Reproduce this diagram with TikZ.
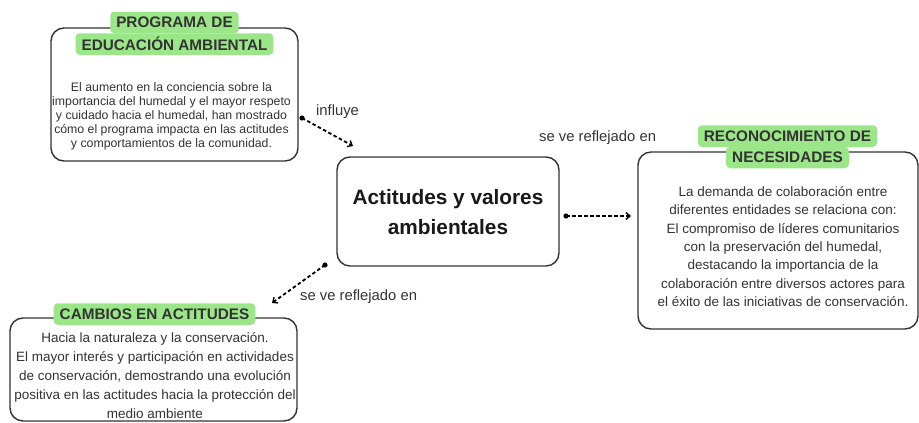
\documentclass[tikz,border=0pt]{standalone}
\usepackage{fontspec}
\setmainfont{Liberation Sans}
\usetikzlibrary{arrows.meta}
\definecolor{txt}{HTML}{333333}
\definecolor{edge}{HTML}{333333}
\definecolor{tagg}{HTML}{9CE68A}
\tikzset{
  box/.style={draw=edge, line width=1.4pt, rounded corners=13pt, fill=white},
  tag/.style={fill=tagg, rounded corners=4pt, text=txt, font=\bfseries\fontsize{15.3}{18}\selectfont, inner xsep=6pt, inner ysep=0pt, minimum height=21.5pt},
  body/.style={text=txt, align=center, inner sep=0pt},
  lbl/.style={text=txt, font=\fontsize{14.8}{17}\selectfont, inner sep=0pt},
  conn/.style={draw=black, line width=1.8pt, dash pattern=on 3.5pt off 2.5pt, -{Straight Barb[length=4pt,width=7pt,line width=1.4pt]}},
  dot/.style={fill=black}
}
\begin{document}
\begin{tikzpicture}[x=1pt,y=-1pt]
\useasboundingbox (0,0) rectangle (919,423);
% box 1
\draw[box] (51,28) rectangle (298,161);
\node[tag] (t1a) at (174.5,22.5) {PROGRAMA DE};
\node[tag] (t1b) at (174.5,44) {EDUCACIÓN AMBIENTAL};
\node[body, font=\fontsize{12.3}{14}\selectfont] (b1) at (171.5,116) {El aumento en la conciencia sobre la\\importancia del humedal y el mayor respeto\\y cuidado hacia el humedal, han mostrado\\cómo el programa impacta en las actitudes\\y comportamientos de la comunidad.};
% central
\draw[box] (337,157) rectangle (559,266);
\node[body, font=\bfseries\fontsize{20.8}{30}\selectfont, text=black!90] (c) at (448,212) {Actitudes y valores\\ambientales};
% box 2
\draw[box] (638,152) rectangle (918,329);
\node[tag] (t2a) at (787.5,136) {RECONOCIMIENTO DE};
\node[tag] (t2b) at (787.5,157.5) {NECESIDADES};
\node[body, font=\fontsize{13.5}{18.3}\selectfont] (b2) at (783,246.5) {La demanda de colaboración entre\\diferentes entidades se relaciona con:\\El compromiso de líderes comunitarios\\con la preservación del humedal,\\destacando la importancia de la\\colaboración entre diversos actores para\\el éxito de las iniciativas de conservación.};
% box 3
\draw[box] (10,318) rectangle (297,421);
\node[tag] (t3) at (154.5,314) {CAMBIOS EN ACTITUDES};
\node[body, font=\fontsize{13.5}{19}\selectfont] (b3) at (155,376) {Hacia la naturaleza y la conservación.\\El mayor interés y participación en actividades\\de conservación, demostrando una evolución\\positiva en las actitudes hacia la protección del\\medio ambiente};
% connectors
\coordinate (a1s) at (302,118);
\coordinate (a1e) at (353,146);
\coordinate (a2s) at (566,216);
\coordinate (a2e) at (631,216);
\coordinate (a3s) at (325,265);
\coordinate (a3e) at (272,303);
\draw[conn] (a1s) -- (a1e);
\draw[conn] (a2s) -- (a2e);
\draw[conn] (a3s) -- (a3e);
\fill[dot] (a1s) circle (2.6pt);
\fill[dot] (a2s) circle (2.6pt);
\fill[dot] (a3s) circle (2.6pt);
\node[lbl, anchor=west] (l1) at (316,112) {influye};
\node[lbl, anchor=west] (l2) at (539,138) {se ve reflejado en};
\node[lbl, anchor=west] (l3) at (300,297) {se ve reflejado en};
\end{tikzpicture}
\end{document}
